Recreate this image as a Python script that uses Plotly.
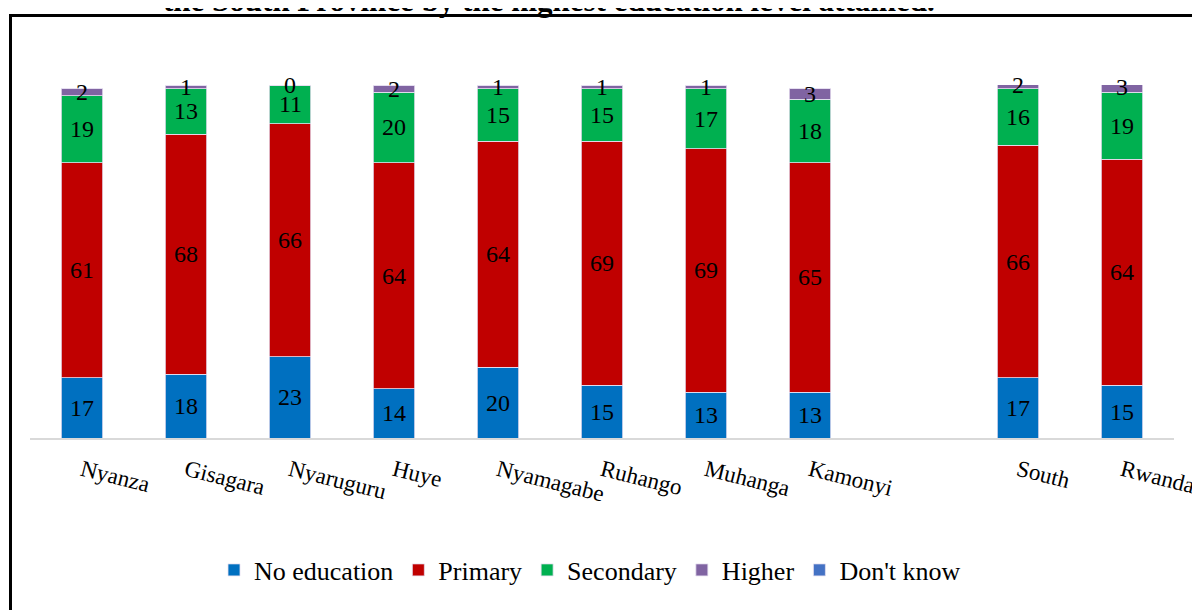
import plotly.graph_objects as go

# ---- data ----
categories = ["Nyanza", "Gisagara", "Nyaruguru", "Huye", "Nyamagabe", "Ruhango",
              "Muhanga", "Kamonyi", None, "South", "Rwanda"]  # None = empty slot
no_education = [17, 18, 23, 14, 20, 15, 13, 13, 17, 15]
primary      = [61, 68, 66, 64, 64, 69, 69, 65, 66, 64]
secondary    = [19, 13, 11, 20, 15, 15, 17, 18, 16, 19]
higher       = [2, 1, 0, 2, 1, 1, 1, 3, 2, 3]
dont_know    = [0, 0, 0, 0, 0, 0, 0, 0, 0, 0]

series_names = ["No education", "Primary", "Secondary", "Higher", "Don't know"]
series_values = [no_education, primary, secondary, higher, dont_know]
colors = ["#0070C0", "#C00000", "#00B050", "#8064A2", "#4472C4"]
show_labels = [True, True, True, True, False]

title_text = "the South Province by the highest education level attained."

# ---- positions of the categories (slot index, skipping the empty slot) ----
xpos = [i for i, c in enumerate(categories) if c is not None]
names = [c for c in categories if c is not None]

FONT = "Liberation Serif"

fig = go.Figure()
for name, vals, col in zip(series_names, series_values, colors):
    fig.add_trace(go.Bar(
        x=xpos, y=vals, name=name, width=0.4,
        marker=dict(color=col, line=dict(color="#e6dff0", width=0.8)),
        hoverinfo="skip",
    ))

# data labels at segment midpoints
annotations = []
cum = [0] * len(xpos)
for vals, show in zip(series_values, show_labels):
    for j, v in enumerate(vals):
        mid = cum[j] + v / 2
        if show:
            annotations.append(dict(
                x=xpos[j], y=mid, xref="x", yref="y", text=str(v),
                showarrow=False, font=dict(family=FONT, size=24, color="black"),
                xanchor="center", yanchor="middle",
            ))
        cum[j] += v

# plot area geometry (figure pixels; page has an 8px body offset)
OFF = 8
W, H = 1200, 610
ML, MR, MT, MB = 22, 34, 77, 180
pw, ph = W - ML - MR, H - MT - MB

def px_x(p):  # p = pixel in the screenshot
    return (p - OFF - ML) / pw

def px_y(p):
    return (H - MB - (p - OFF)) / ph

# cut-off title
annotations.append(dict(
    x=px_x(549), y=px_y(20), xref="paper", yref="paper", text="<b>" + title_text + "</b>",
    showarrow=False, font=dict(family=FONT, size=31, color="black"),
    xanchor="center", yanchor="bottom",
))

shapes = [
    dict(type="path", xref="paper", yref="paper",
         path=f"M {px_x(10.5)} {px_y(640)} L {px_x(10.5)} {px_y(15.5)} L {px_x(1230)} {px_y(15.5)}",
         line=dict(color="black", width=3)),
]

fig.update_layout(
    width=W, height=H,
    margin=dict(l=ML, r=MR, t=MT, b=MB, autoexpand=False),
    barmode="stack",
    plot_bgcolor="white", paper_bgcolor="white",
    font=dict(family=FONT, size=22, color="black"),
    xaxis=dict(
        range=[-0.5, len(categories) - 0.5],
        tickmode="array", tickvals=xpos, ticktext=names, tickangle=14,
        tickfont=dict(family=FONT, size=23, color="black"),
        showgrid=False, zeroline=False, showline=True, linecolor="#d9d9d9", linewidth=2,
        ticks="", ticklabelstandoff=8,
    ),
    yaxis=dict(range=[0, 100], visible=False),
    legend=dict(
        orientation="h", x=px_x(590), xanchor="center", y=px_y(570), yanchor="middle",
        font=dict(family=FONT, size=26, color="black"),
        itemwidth=30, traceorder="normal",
    ),
    annotations=annotations,
    shapes=shapes,
)

fig.write_html("out.html")
